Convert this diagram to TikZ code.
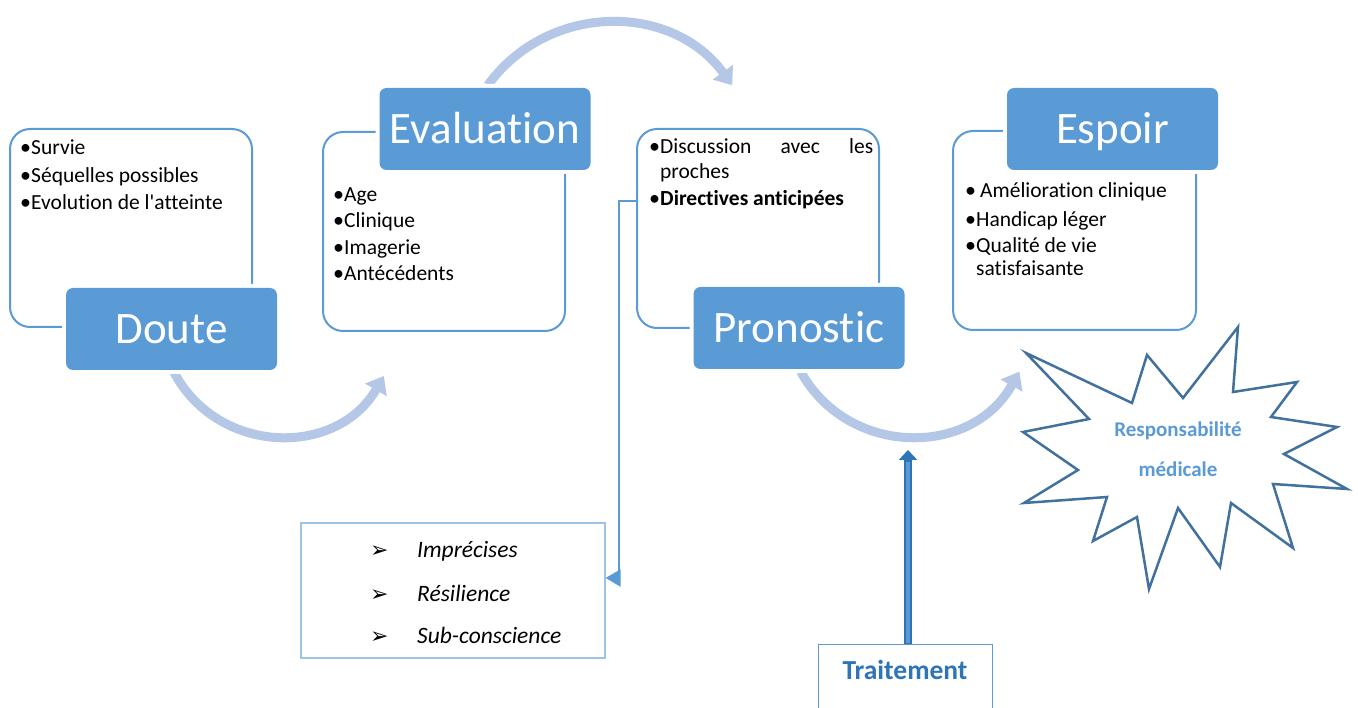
\documentclass[tikz,border=0pt]{standalone}
\usepackage{fontspec}
\setmainfont{Carlito}[Ligatures={NoCommon}]
\newfontfamily\djv{DejaVu Sans}
\usetikzlibrary{arrows.meta}
\definecolor{mblue}{HTML}{5B9BD5}
\definecolor{lblue}{HTML}{B4C7E7}
\definecolor{sblue}{HTML}{41719C}
\definecolor{dblue}{HTML}{2E75B6}
\definecolor{bblue}{HTML}{9DC3E6}
\newcommand{\bul}{\makebox[12pt][l]{\hspace{1pt}\fontsize{22}{22}\selectfont•}}
\begin{document}
\begin{tikzpicture}[x=1pt,y=-1pt,
  outline/.style={draw=mblue, line width=2pt, rounded corners=20pt, inner sep=0},
  title/.style={fill=mblue, rounded corners=7pt, text=white, font=\fontsize{45}{50}\selectfont,
    minimum width=211pt, minimum height=82pt, inner sep=0, text height=29pt, text depth=0pt,
    preaction={draw=white, line width=8pt}},
  bl/.style={anchor=base west, inner sep=0, font=\fontsize{21.5}{25}\selectfont},
  il/.style={anchor=base west, inner sep=0, font=\fontsize{23.5}{28}\selectfont\itshape},
  ar/.style={anchor=base west, inner sep=0, font=\djv\fontsize{22}{24}\selectfont},
  curvarrow/.style={draw=lblue, line width=9pt, -{Triangle[width=24pt,length=16pt]}},
  conn/.style={draw=mblue, line width=2pt, -{Triangle[width=17pt,length=15pt]}},
  startext/.style={inner sep=0, anchor=base, text=mblue, font=\fontsize{21}{24}\selectfont\bfseries}
]
\useasboundingbox (0,0) rectangle (1358,708);
\fill[white] (0,0) rectangle (1358,708);

% curved arrows
\coordinate (a1s) at (174.0,372.3);
\coordinate (a1e) at (383.9,376);
\coordinate (a2s) at (800.7,371.6);
\coordinate (a2e) at (1019.3,371.6);
\coordinate (a3s) at (487.8,85.2);
\coordinate (a3e) at (732.2,85.2);
\draw[curvarrow] (a1s) .. controls +(44.2,83.2) and +(-47.1,81.6) .. (a1e);
\draw[curvarrow] (a2s) .. controls +(47.6,85.9) and +(-47.6,85.9) .. (a2e);
\draw[curvarrow] (a3s) .. controls +(60.3,-83.0) and +(-60.3,-83.0) .. (a3e);

% outline boxes
\node[outline, minimum width=242pt, minimum height=198pt] (dout) at (131,228) {};
\node[outline, minimum width=242pt, minimum height=199pt] (evout) at (444,231.5) {};
\node[outline, minimum width=242pt, minimum height=199pt] (prout) at (758,228.5) {};
\node[outline, minimum width=243pt, minimum height=199pt] (esout) at (1074.5,230.5) {};

% titles
\node[title] (doute) at (171.5,329) {Doute};
\node[title] (eval) at (485,129) {Evaluation};
\node[title] (pron) at (799,328) {Pronostic};
\node[title] (espoir) at (1112.5,129) {Espoir};

% bullet texts
\node[bl] (d1) at (19,155) {\bul Survie};
\node[bl] (d2) at (19,183) {\bul Séquelles possibles};
\node[bl] (d3) at (19,210) {\bul Evolution de l\textquotesingle atteinte};

\node[bl] (e1) at (332,202) {\bul Age};
\node[bl] (e2) at (332,228) {\bul Clinique};
\node[bl] (e3) at (332,255) {\bul Imagerie};
\node[bl] (e4) at (332,281) {\bul Antécédents};

\node[bl] (p1) at (648,154) {\bul\hbox to 213pt{Discussion\hfill avec\hfill les}};
\node[bl] (p2) at (660,179) {proches};
\node[bl] (p3) at (648,206) {\bul\textbf{Directives anticipées}};

\node[bl] (s1) at (964,198) {\bul\hspace{4pt}Amélioration clinique};
\node[bl] (s2) at (964,227) {\bul Handicap léger};
\node[bl] (s3) at (964,253) {\bul Qualité de vie};
\node[bl] (s4) at (976,276) {satisfaisante};

% doubts box
\node[draw=bblue, line width=1.2pt, minimum width=304pt, minimum height=135pt, inner sep=0] (doubts) at (453,590.5) {};
\node[ar] (m1) at (370,557) {➢};
\node[ar] (m2) at (370,601) {➢};
\node[ar] (m3) at (370,643) {➢};
\node[il] (i1) at (417,557) {Imprécises};
\node[il] (i2) at (417,601) {Résilience};
\node[il] (i3) at (417,643) {Sub-conscience};

\draw[conn] ([yshift=27.5pt]prout.west) -- ++(-17,0) |- ([yshift=12.5pt]doubts.east);

% traitement
\node[draw=mblue, line width=1pt, minimum width=174pt, minimum height=80pt, inner sep=0,
  text=dblue, font=\fontsize{27.5}{30}\selectfont\bfseries, text height=17pt, text depth=27pt] (tr) at (905,684) {Traitement};
\coordinate (trtip) at (908,450);
\coordinate (trin) at (908,462);
\draw[dblue, line width=8pt, -{Triangle[width=18pt,length=10pt]}] ([xshift=3pt]tr.north) -- (trtip);
\draw[mblue, line width=3.5pt] ([xshift=3pt,yshift=1pt]tr.north) -- (trin);

% star
\draw[sblue, line width=2.5pt, line join=miter, fill=white]
  (1026,353) -- (1132,403) -- (1147,355) -- (1183,398) -- (1238,327) -- (1233,392)
  -- (1297,382) -- (1271,417) -- (1337,427) -- (1284,454) -- (1347,489) -- (1273,484)
  -- (1293,548) -- (1231,503) -- (1220,567) -- (1178,508) -- (1149,589) -- (1137,517)
  -- (1093,541) -- (1107,497) -- (1024,503) -- (1078,470) -- (1023,432) -- (1089,419) -- cycle;
\node[startext] (st1) at (1178,437) {Responsabilité};
\node[startext] (st2) at (1178,477) {médicale};
\end{tikzpicture}
\end{document}
